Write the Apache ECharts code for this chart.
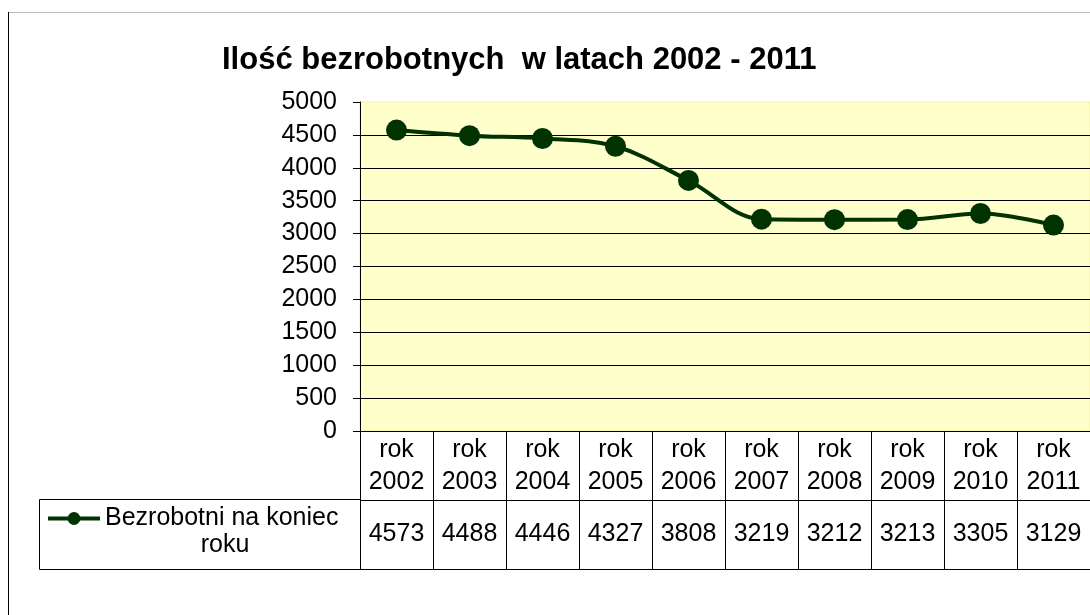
<!DOCTYPE html>
<html>
<head>
<meta charset="utf-8">
<script src="https://cdn.jsdelivr.net/npm/echarts@6/dist/echarts.min.js"></script>
<style>
    html, body { margin: 0; padding: 0; background: #fff; }
    #BezrobociChart { width: 1090px; height: 615px; }
</style>
</head>
<body>
<div id="BezrobociChart"></div>
<script>
// dane z tabeli pod wykresem
var years = ['2002', '2003', '2004', '2005', '2006', '2007', '2008', '2009', '2010', '2011'];
var categories = years.map(y => 'rok ' + y);
var unemployed = [4573, 4488, 4446, 4327, 3808, 3219, 3212, 3213, 3305, 3129];
var seriesName = 'Bezrobotni na koniec roku';

var font = "'Liberation Sans', Arial, sans-serif";
var green = '#003300';

var chartDom = document.getElementById('BezrobociChart');
var myChart = echarts.init(chartDom);
var option;

option = {
    animation: false,
    textStyle: { fontFamily: font },
    title: {
        text: 'Ilość bezrobotnych  w latach 2002 - 2011',
        left: 217,
        top: 40,
        textStyle: { fontFamily: font, fontSize: 31, fontWeight: 'bold', color: '#000' }
    },
    legend: {
        data: [seriesName],
        left: 46,
        top: 478,
        padding: 0,
        itemWidth: 52,
        itemHeight: 16,
        itemGap: 0,
        lineStyle: { width: 4 },
        formatter: () => 'Bezrobotni na koniec\n{c|roku}',
        textStyle: {
            fontFamily: font,
            fontSize: 25,
            color: '#000',
            lineHeight: 27,
            padding: [27, 0, 0, 0],
            rich: {
                c: { fontFamily: font, fontSize: 25, color: '#000', width: 240, align: 'center', lineHeight: 27 }
            }
        }
    },
    grid: [
        {
            left: 360, right: -3, top: 102, bottom: 184,
            show: true,
            backgroundColor: '#FFFFCC',
            borderColor: '#F2F29A',
            borderWidth: 1
        },
        {
            left: 360, right: -3, top: 431, bottom: 46
        }
    ],
    xAxis: [
        {
            type: 'category',
            gridIndex: 0,
            data: categories,
            boundaryGap: true,
            axisLine: { lineStyle: { color: '#000', width: 1 } },
            axisTick: { show: false },
            axisLabel: {
                margin: 3,
                fontFamily: font,
                fontSize: 25,
                lineHeight: 32,
                color: '#000',
                interval: 0,
                formatter: v => v.replace(' ', '\n')
            }
        },
        {
            type: 'category',
            gridIndex: 1,
            data: categories,
            boundaryGap: true,
            axisLine: { show: false },
            axisTick: { show: false },
            axisLabel: { show: false },
            splitLine: { show: true, interval: 0, lineStyle: { color: '#000', width: 1 } }
        }
    ],
    yAxis: [
        {
            type: 'value',
            gridIndex: 0,
            min: 0,
            max: 5000,
            interval: 500,
            axisLine: { show: true, lineStyle: { color: '#000', width: 1 } },
            axisTick: { show: true, length: 7, lineStyle: { color: '#000' } },
            axisLabel: { margin: 23, fontFamily: font, fontSize: 25, color: '#000', formatter: v => String(v) },
            splitLine: { show: true, showMaxLine: false, lineStyle: { color: '#000', width: 1 } }
        },
        {
            type: 'value',
            gridIndex: 1,
            min: 0,
            max: 2,
            interval: 1,
            axisLine: { show: true, lineStyle: { color: '#000', width: 1 } },
            axisTick: { show: false },
            axisLabel: { show: false },
            splitLine: { show: true, lineStyle: { color: '#000', width: 1 } }
        }
    ],
    graphic: [
        // ramka obszaru wykresu
        { type: 'rect', shape: { x: 9, y: 12, width: 1081, height: 1 }, style: { fill: '#BDBDBD' } },
        { type: 'rect', shape: { x: 8, y: 12, width: 1, height: 603 }, style: { fill: '#000' } },
        // komórka legendy w tabeli danych
        { type: 'rect', shape: { x: 39.5, y: 499.5, width: 321, height: 70 }, style: { fill: 'none', stroke: '#000', lineWidth: 1 } }
    ],
    series: [
        {
            name: seriesName,
            type: 'line',
            xAxisIndex: 0,
            yAxisIndex: 0,
            data: unemployed,
            smooth: 0.35,
            symbol: 'circle',
            symbolSize: 21,
            lineStyle: { color: green, width: 4 },
            itemStyle: { color: green }
        },
        {
            name: 'tabela',
            type: 'scatter',
            xAxisIndex: 1,
            yAxisIndex: 1,
            symbolSize: 0,
            data: unemployed.map((v, i) => [i, 0.5, v]),
            encode: { x: 0, y: 1 },
            itemStyle: { opacity: 1 },
            label: {
                show: true,
                position: 'inside',
                fontFamily: font,
                fontSize: 25,
                color: '#000',
                opacity: 1,
                formatter: p => String(p.value[2])
            }
        }
    ]
};

option && myChart.setOption(option);
</script>
</body>
</html>
